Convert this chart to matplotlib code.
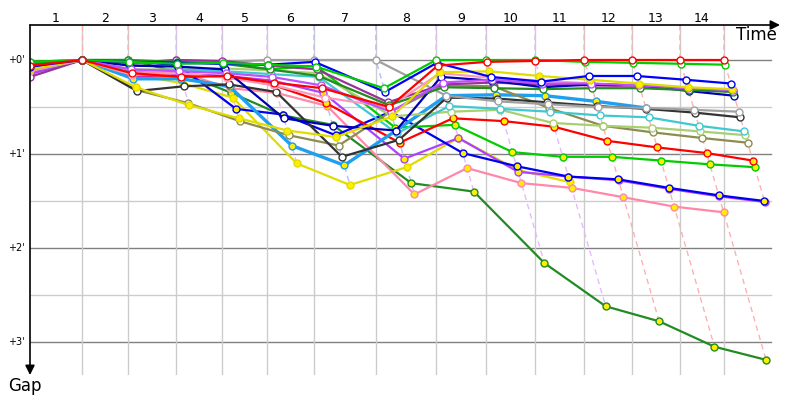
import numpy as np
import matplotlib
matplotlib.use('Agg')
import matplotlib.pyplot as plt

# leader's elapsed time (minutes) at start and at the end of each lap
lap_labels = [str(i) for i in range(1, 15)]
leader_times = [0, 1.93, 3.63, 5.41, 7.11, 8.78, 10.52, 12.81,
                15.04, 16.89, 18.70, 20.52, 22.30, 24.07, 25.70]
gap_ticks = [0, 1, 2, 3]
gap_labels = ["+0'", "+1'", "+2'", "+3'"]

nan = np.nan
# gap to leader (minutes) at each checkpoint, start first
red_w = [0.06, 0, 0.14, 0.18, 0.17, 0.24, 0.30, 0.50, 0.06, 0.02, 0.01, 0.0, 0.0, 0.0, 0.0]
lime_w = [0.02, 0, 0.02, 0.04, 0.03, 0.05, 0.07, 0.30, 0.0, 0.0, 0.0, 0.02, 0.03, 0.04, 0.05]
blue_w = [0.07, 0, 0.02, 0.03, 0.04, 0.05, 0.02, 0.34, 0.03, 0.18, 0.23, 0.17, 0.17, 0.21, 0.25]
yellow_b = [0.10, 0, 0.29, 0.48, 0.62, 0.75, 0.82, 0.60, 0.13, 0.12, 0.17, 0.21, 0.25, 0.29, 0.31]
violet_w = [0.10, 0, 0.10, 0.12, 0.14, 0.18, 0.27, 0.55, 0.24, 0.21, 0.25, 0.25, 0.27, 0.30, 0.32]
forest_w = [0.04, 0, 0.0, 0.02, 0.04, 0.10, 0.17, 0.48, 0.29, 0.30, 0.31, 0.30, 0.30, 0.32, 0.34]
navy_w = [0.06, 0, 0.06, 0.07, 0.10, 0.62, 0.70, 0.75, 0.18, 0.22, 0.29, 0.26, 0.27, 0.33, 0.38]
gray_w = [0.03, 0, 0.05, 0.0, 0.02, 0.0, 0.0, 0.0, 0.38, 0.44, 0.47, 0.50, 0.51, 0.53, 0.55]
black_w = [0.09, 0, 0.33, 0.28, 0.26, 0.34, 1.03, 0.85, 0.40, 0.41, 0.45, 0.49, 0.52, 0.56, 0.61]
turq_w = [0.08, 0, 0.12, 0.10, 0.12, 0.15, 0.18, 0.78, 0.49, 0.52, 0.55, 0.59, 0.61, 0.70, 0.76]
ygreen_w = [0.07, 0, 0.10, 0.10, 0.09, 0.11, 0.14, 0.60, 0.55, 0.53, 0.67, 0.70, 0.72, 0.76, 0.80]
olive_w = [0.10, 0, 0.32, 0.46, 0.65, 0.80, 0.91, 0.55, 0.27, 0.28, 0.51, 0.70, 0.77, 0.83, 0.88]
red_y = [0.10, 0, 0.16, 0.17, 0.17, 0.27, 0.46, 0.88, 0.62, 0.65, 0.71, 0.86, 0.93, 0.99, 1.07]
lime_y = [0.05, 0, 0.02, 0.03, 0.02, 0.10, 0.06, 0.72, 0.69, 0.98, 1.03, 1.03, 1.07, 1.11, 1.14]
blue_y = [0.12, 0, 0.02, 0.05, 0.52, 0.58, 0.80, 0.55, 0.99, 1.13, 1.24, 1.27, 1.36, 1.44, 1.50]
violet_y = [0.15, 0, 0.18, 0.15, 0.17, 0.22, 0.35, 1.05, 0.83, 1.19, 1.24, 1.28, 1.37, 1.45, 1.51]
pink_y = [0.14, 0, 0.14, 0.13, 0.30, 0.35, 0.49, 1.43, 1.15, 1.31, 1.36, 1.46, 1.56, 1.62, nan]
forest_y = [0.02, 0, 0.0, 0.13, 0.35, 0.59, 0.69, 1.31, 1.40, 2.16, 2.62, 2.78, 3.05, 3.19, nan]
sky_y = [0.11, 0, 0.20, 0.20, 0.28, 0.91, 1.12, 0.75, 0.38, 0.37, 0.38, 0.44, 0.51, nan, nan]
yellow_a = [0.12, 0, 0.15, 0.25, 0.40, 1.10, 1.33, 1.14, 0.83, 1.17, 1.30, nan, nan, nan, nan]
pink_w = [0.12, 0, 0.16, 0.14, 0.19, 0.27, 0.40, 0.50, 0.14, 0.19, 0.22, 0.25, 0.28, 0.31, 0.33]
purple_w = [0.18, 0, 0.03, 0.0, 0.01, 0.06, 0.10, 0.45, 0.26, 0.24, 0.26, 0.27, 0.28, 0.31, 0.33]

W, Y = 'white', '#ffee00'
riders = [
    (forest_y, '#228b22', Y, 1.6),
    (yellow_a, '#e0dc00', Y, 1.6),
    (pink_y, '#ff88aa', Y, 1.6),
    (violet_y, '#b040ff', Y, 1.6),
    (blue_y, '#0000ee', Y, 1.6),
    (lime_y, '#00cc00', Y, 1.6),
    (red_y, '#ff0000', Y, 1.6),
    (sky_y, '#1e9ff0', Y, 2.4),
    (olive_w, '#8c8c50', W, 1.6),
    (ygreen_w, '#a8d070', W, 1.6),
    (turq_w, '#40c8d0', W, 1.6),
    (black_w, '#333333', W, 1.6),
    (gray_w, '#a0a0a0', W, 1.6),
    (purple_w, '#993399', W, 1.6),
    (pink_w, '#ff99bb', W, 1.6),
    (navy_w, '#0000b0', W, 1.6),
    (forest_w, '#228b22', W, 1.6),
    (violet_w, '#c050ff', W, 1.6),
    (yellow_b, '#e0dc00', Y, 1.6),
    (blue_w, '#0000ff', W, 1.6),
    (lime_w, '#00cc00', W, 1.6),
    (red_w, '#ff0000', W, 1.6),
]
PK, VI, BL = '#ffb0b0', '#e8b8ff', '#b4bcff'
dash_colors = [PK, PK, VI, VI, VI, BL, BL, VI, VI, VI, PK, PK, PK, PK]

fig = plt.figure(figsize=(8, 4), dpi=100)
ax = fig.add_axes([30 / 800, 25 / 400, 750 / 800, 350 / 400])
XMAX = 750 / 27
YTOP, YBOT = -35 / 94, 315 / 94
ax.set_xlim(0, XMAX)
ax.set_ylim(YBOT, YTOP)
ax.axis('off')

# grid
xend = 741 / 27
for g in np.arange(0.5, 3.5, 1.0):
    ax.plot([0, xend], [g, g], color='#cccccc', lw=1, zorder=0)
for g in gap_ticks:
    ax.plot([0, xend], [g, g], color='#808080', lw=1, zorder=0)
for t in leader_times[1:]:
    ax.plot([t, t], [YTOP, YBOT], color='#cccccc', lw=1, zorder=0)

# isochrone lines per checkpoint
for k in range(1, 15):
    mx = np.nanmax([r[0][k] for r in riders])
    t = leader_times[k]
    ax.plot([t, t, t + mx], [YTOP, 0, mx], color=dash_colors[k - 1],
            lw=1, ls=(0, (4, 3)), zorder=1)

for gaps, color, face, lw in riders:
    g = np.array(gaps, dtype=float)
    t = np.array(leader_times) + g
    t[0] = 0
    m = ~np.isnan(g)
    ax.plot(t[m], g[m], '-o', color=color, lw=lw, ms=5, mfc=face,
            mec=color, mew=1, zorder=3)

# axes arrows
ax.annotate('', xy=(1.0, 1.0), xytext=(0, 1.0), xycoords='axes fraction',
            arrowprops=dict(arrowstyle='-|>', color='black', lw=1.2,
                            mutation_scale=14, shrinkA=0, shrinkB=0))
ax.annotate('', xy=(0, 0), xytext=(0, 1.0), xycoords='axes fraction',
            arrowprops=dict(arrowstyle='-|>', color='black', lw=1.2,
                            mutation_scale=14, shrinkA=0, shrinkB=0))

edges = leader_times
for i, lab in enumerate(lap_labels):
    mid = (edges[i] + edges[i + 1]) / 2
    ax.text(mid, -42 / 94, lab, ha='center', va='center', fontsize=9)
for g, lab in zip(gap_ticks, gap_labels):
    ax.text(-22 / 27, g, lab, ha='left', va='center', fontsize=7)
ax.text(747 / 27, -25 / 94, 'Time', ha='right', va='center', fontsize=12)
ax.text(-5 / 27, 326 / 94, 'Gap', ha='center', va='center', fontsize=12)

fig.savefig('out.png', dpi=100)
